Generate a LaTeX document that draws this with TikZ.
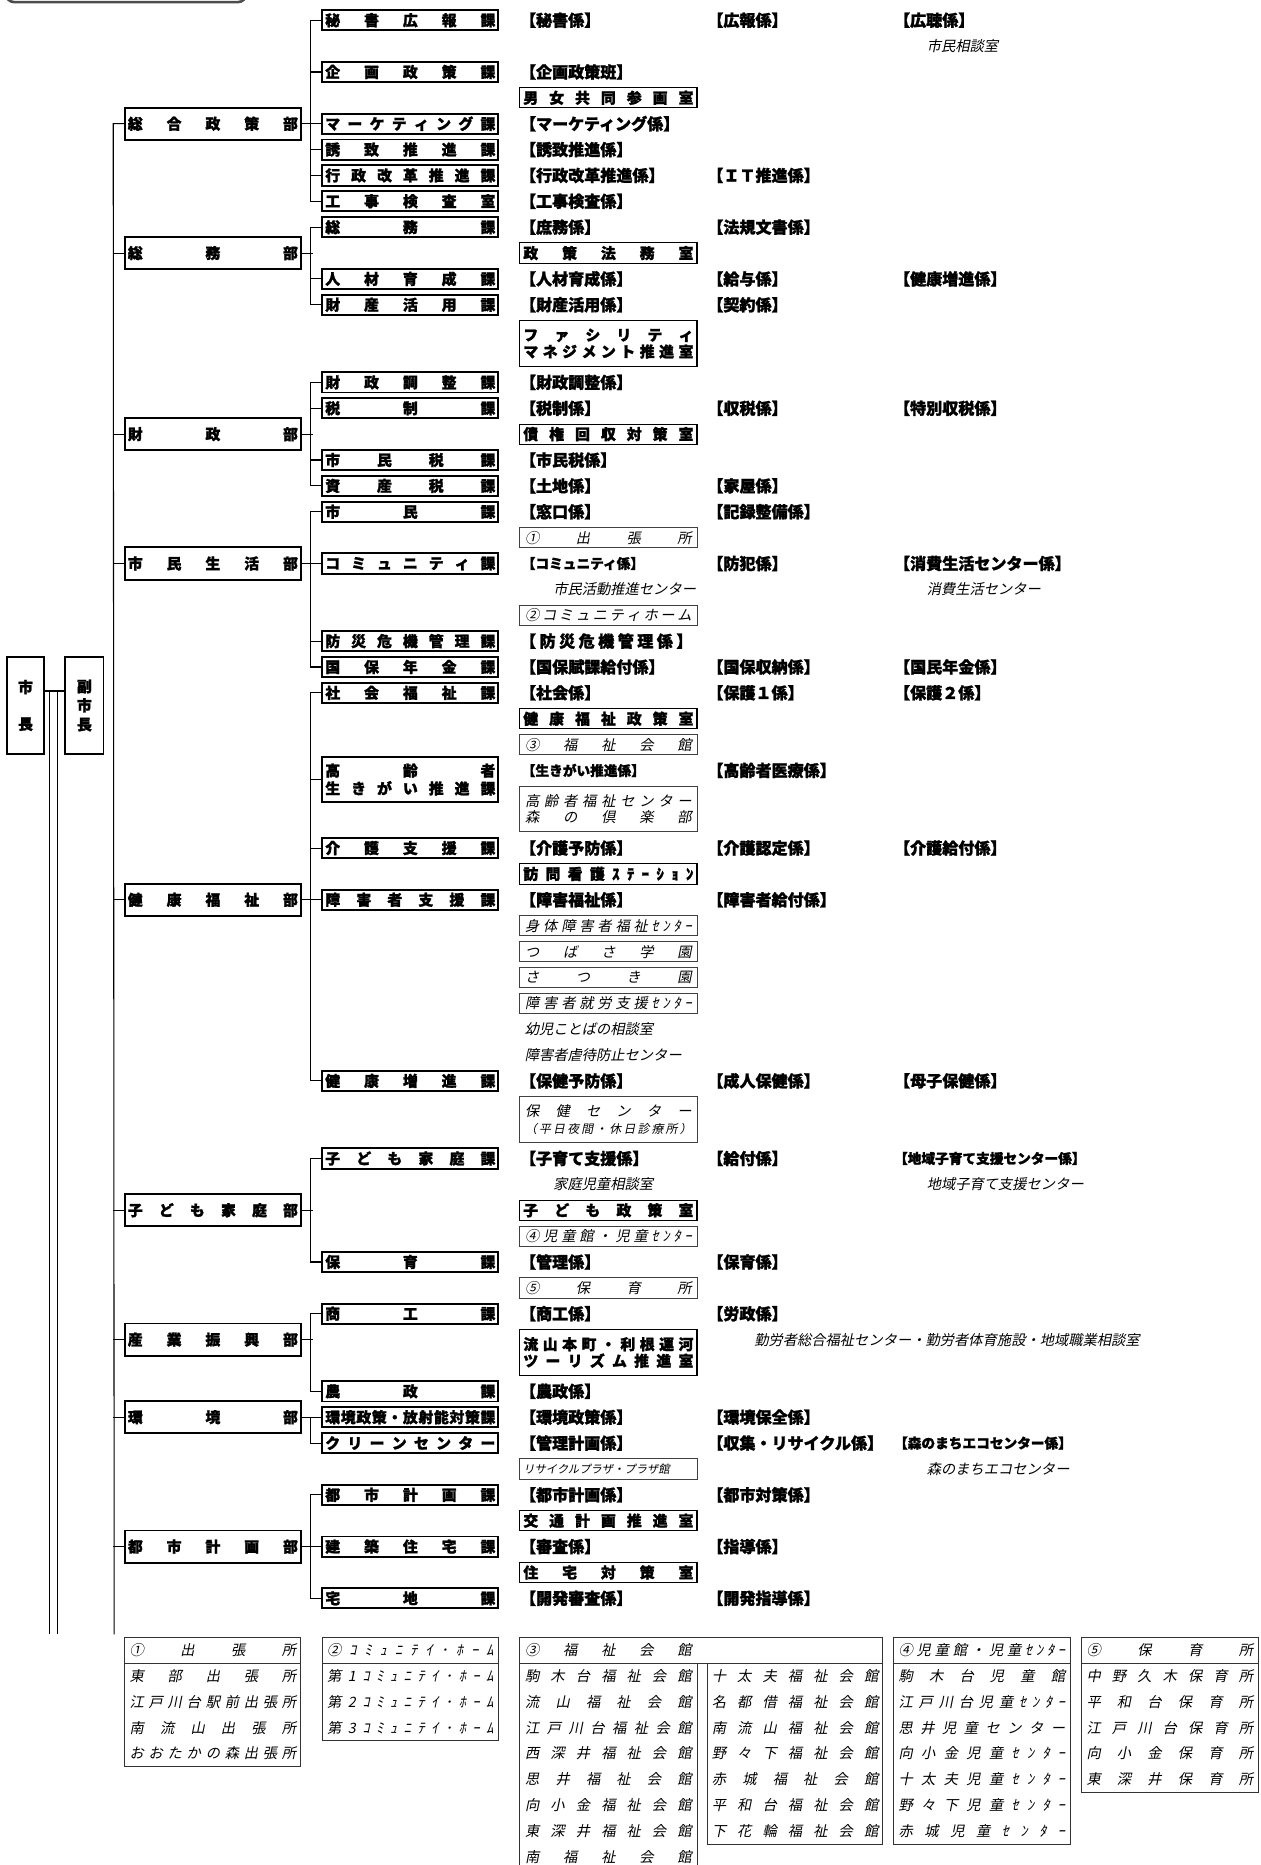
\documentclass[tikz,border=0pt]{standalone}
\usepackage{fontspec}
\setmainfont{Noto Sans CJK JP}[BoldFeatures={FakeBold=1.6}]
\newfontfamily\jpit{Noto Sans CJK JP}[FakeSlant=0.2]

\makeatletter
% spread the characters evenly over a given width
\def\dst@#1#2\@nil{#1\ifx\relax#2\relax\else\hfill\dst@#2\@nil\fi}
\newcommand\dist[2]{\makebox[#1][s]{\expandafter\dst@#2\@nil}}
\makeatother
\newcommand\wide[1]{\dist{143pt}{#1}}
\newcommand\iwide[1]{\dist{140pt}{#1}}

\tikzset{
  bu/.style={draw, line width=1.6pt, minimum width=148pt, minimum height=27pt, inner sep=0pt, align=center, font=\bfseries\fontsize{12.5}{15}\selectfont},
  ka/.style={draw, line width=1.6pt, minimum width=148pt, minimum height=17pt, inner sep=0pt, align=center, font=\bfseries\fontsize{12.5}{15}\selectfont},
  shitsu/.style={draw, line width=0.9pt, minimum width=149pt, minimum height=17pt, inner sep=0pt, align=center, font=\bfseries\fontsize{12.5}{14}\selectfont},
  shisetsu/.style={draw=black!75, line width=0.7pt, minimum width=149pt, minimum height=17pt, inner sep=0pt, align=center, font=\jpit\fontsize{12}{14}\selectfont},
  kakari/.style={anchor=west, inner sep=0pt, font=\bfseries\fontsize{13.5}{15}\selectfont},
  kakari small/.style={anchor=west, inner sep=0pt, font=\bfseries\fontsize{11.5}{13}\selectfont},
  memo/.style={anchor=west, inner sep=0pt, font=\jpit\fontsize{12}{14}\selectfont},
  hyo/.style={inner sep=0pt, font=\jpit\fontsize{12}{14}\selectfont},
  link/.style={line width=0.9pt},
  waku/.style={draw=black!80, line width=0.8pt},
}

\begin{document}
\begin{tikzpicture}[x=1pt, y=-21.75pt]
  % x in points, y in rows of the chart (row 0 = first line)
  \useasboundingbox (0,-0.782) rectangle (1060,71.31);
  \draw[gray!60!black, line width=2.2pt, rounded corners=7pt] (5,-3) rectangle (207,-0.70);

  % mayor and vice mayor
  \node[draw, line width=1.6pt, minimum width=31pt, minimum height=82pt, inner sep=0pt, align=center, font=\bfseries\fontsize{12.5}{31}\selectfont] (Shicho) at (21.5,26.49) {市\\長};
  \node[draw, line width=1.6pt, minimum width=32pt, minimum height=82pt, inner sep=0pt, align=center, font=\bfseries\fontsize{12.5}{16}\selectfont] (Fuku) at (71,26.49) {副\\市\\長};

  % departments
  \node[bu] (Sogo) at (179,4) {\wide{総合政策部}};
  \node[bu] (Somu) at (179,9) {\wide{総務部}};
  \node[bu] (Zaisei) at (179,16) {\wide{財政部}};
  \node[bu] (Shimin) at (179,21) {\wide{市民生活部}};
  \node[bu] (Kenko) at (179,34) {\wide{健康福祉部}};
  \node[bu] (Kodomo) at (179,46) {\wide{子ども家庭部}};
  \node[bu] (Sangyo) at (179,51) {\wide{産業振興部}};
  \node[bu] (Kankyo) at (179,54) {\wide{環境部}};
  \node[bu] (Toshi) at (179,59) {\wide{都市計画部}};

  % sections
  \node[ka] (Hisho) at (345,0) {\wide{秘書広報課}};
  \node[ka] (Kikaku) at (345,2) {\wide{企画政策課}};
  \node[ka] (Market) at (345,4) {\wide{マーケティング課}};
  \node[ka] (Yuchi) at (345,5) {\wide{誘致推進課}};
  \node[ka] (Gyokaku) at (345,6) {\wide{行政改革推進課}};
  \node[ka] (Koji) at (345,7) {\wide{工事検査室}};
  \node[ka] (Somuka) at (345,8) {\wide{総務課}};
  \node[ka] (Jinzai) at (345,10) {\wide{人材育成課}};
  \node[ka] (Zaisan) at (345,11) {\wide{財産活用課}};
  \node[ka] (Chosei) at (345,14) {\wide{財政調整課}};
  \node[ka] (Zeisei) at (345,15) {\wide{税制課}};
  \node[ka] (Shiminzei) at (345,17) {\wide{市民税課}};
  \node[ka] (Shisanzei) at (345,18) {\wide{資産税課}};
  \node[ka] (Shiminka) at (345,19) {\wide{市民課}};
  \node[ka] (Commu) at (345,21) {\wide{コミュニティ課}};
  \node[ka] (Bosai) at (345,24) {\wide{防災危機管理課}};
  \node[ka] (Kokuho) at (345,25) {\wide{国保年金課}};
  \node[ka] (Shakai) at (345,26) {\wide{社会福祉課}};
  \node[ka, minimum height=38pt] (Korei) at (345,29.35) {\wide{高齢者}\\\wide{生きがい推進課}};
  \node[ka] (Kaigo) at (345,32) {\wide{介護支援課}};
  \node[ka] (Shogai) at (345,34) {\wide{障害者支援課}};
  \node[ka] (Zoshin) at (345,41) {\wide{健康増進課}};
  \node[ka] (Katei) at (345,44) {\wide{子ども家庭課}};
  \node[ka] (Hoiku) at (345,48) {\wide{保育課}};
  \node[ka] (Shoko) at (345,50) {\wide{商工課}};
  \node[ka] (Nosei) at (345,53) {\wide{農政課}};
  \node[ka] (Kanseisaku) at (345,54) {\wide{環境政策・放射能対策課}};
  \node[ka] (Clean) at (345,55) {\wide{クリーンセンター}};
  \node[ka] (Keikaku) at (345,57) {\wide{都市計画課}};
  \node[ka] (Kenchiku) at (345,59) {\wide{建築住宅課}};
  \node[ka] (Takuchi) at (345,61) {\wide{宅地課}};

  % offices and facilities
  \node[shitsu] (Danjo) at (511.5,3) {\wide{男女共同参画室}};
  \node[shitsu] (Homu) at (511.5,9) {\wide{政策法務室}};
  \node[shitsu, minimum height=38.5pt] (Facility) at (511.5,12.5) {\wide{ファシリティ}\\\wide{マネジメント推進室}};
  \node[shitsu] (Saiken) at (511.5,16) {\wide{債権回収対策室}};
  \node[shisetsu] (Shucho) at (511.5,20) {\iwide{①出張所}};
  \node[shisetsu] (Home) at (511.5,23) {\iwide{②コミュニティホーム}};
  \node[shitsu] (Fseisaku) at (511.5,27) {\wide{健康福祉政策室}};
  \node[shisetsu] (Kaikan) at (511.5,28) {\iwide{③福祉会館}};
  \node[shisetsu, minimum height=38pt] (Koreicenter) at (511.5,30.5) {\iwide{高齢者福祉センター}\\\iwide{森の倶楽部}};
  \node[shitsu] (Homon) at (511.5,33) {\wide{訪問看護ｽﾃｰｼｮﾝ}};
  \node[shisetsu] (Shintai) at (511.5,35) {\iwide{身体障害者福祉ｾﾝﾀｰ}};
  \node[shisetsu] (Tsubasa) at (511.5,36) {\iwide{つばさ学園}};
  \node[shisetsu] (Satsuki) at (511.5,37) {\iwide{さつき園}};
  \node[shisetsu] (Shuro) at (511.5,38) {\iwide{障害者就労支援ｾﾝﾀｰ}};
  \node[shisetsu, minimum height=38.5pt] (Hoken) at (511.5,42.5) {\iwide{保健センター}\\{\fontsize{10}{12}\selectfont\iwide{（平日夜間・休日診療所）}}};
  \node[shitsu] (Kseisaku) at (511.5,46) {\wide{子ども政策室}};
  \node[shisetsu] (Jidokan) at (511.5,47) {\iwide{④児童館・児童ｾﾝﾀｰ}};
  \node[shisetsu] (Hoikusho) at (511.5,49) {\iwide{⑤保育所}};
  \node[shitsu, minimum height=38.5pt] (Tourism) at (511.5,51.5) {\wide{流山本町・利根運河}\\\wide{ツーリズム推進室}};
  \node[shisetsu, text width=143pt, align=left, font=\jpit\fontsize{9.5}{11}\selectfont] (Recycle) at (511.5,56) {リサイクルプラザ・プラザ館};
  \node[shitsu] (Kotsu) at (511.5,58) {\wide{交通計画推進室}};
  \node[shitsu] (Jutaku) at (511.5,60) {\wide{住宅対策室}};

  % notes
  \node[memo] (m1) at (779,1) {市民相談室};
  \node[memo] (m2) at (465,22) {市民活動推進センター};
  \node[memo] (m3) at (779,22) {消費生活センター};
  \node[memo] (m4) at (441,39) {幼児ことばの相談室};
  \node[memo] (m5) at (441,40) {障害者虐待防止センター};
  \node[memo] (m6) at (465,45) {家庭児童相談室};
  \node[memo] (m7) at (779,45) {地域子育て支援センター};
  \node[memo] (m8) at (634,51) {勤労者総合福祉センター・勤労者体育施設・地域職業相談室};
  \node[memo] (m9) at (779,56) {森のまちエコセンター};

  % units
  \node[kakari] (k0a) at (437,0) {【秘書係】};
  \node[kakari] (k0b) at (594.5,0) {【広報係】};
  \node[kakari] (k0c) at (751.5,0) {【広聴係】};
  \node[kakari] (k2a) at (437,2) {【企画政策班】};
  \node[kakari] (k4a) at (437,4) {【マーケティング係】};
  \node[kakari] (k5a) at (437,5) {【誘致推進係】};
  \node[kakari] (k6a) at (437,6) {【行政改革推進係】};
  \node[kakari] (k6b) at (594.5,6) {【ＩＴ推進係】};
  \node[kakari] (k7a) at (437,7) {【工事検査係】};
  \node[kakari] (k8a) at (437,8) {【庶務係】};
  \node[kakari] (k8b) at (594.5,8) {【法規文書係】};
  \node[kakari] (k10a) at (437,10) {【人材育成係】};
  \node[kakari] (k10b) at (594.5,10) {【給与係】};
  \node[kakari] (k10c) at (751.5,10) {【健康増進係】};
  \node[kakari] (k11a) at (437,11) {【財産活用係】};
  \node[kakari] (k11b) at (594.5,11) {【契約係】};
  \node[kakari] (k14a) at (437,14) {【財政調整係】};
  \node[kakari] (k15a) at (437,15) {【税制係】};
  \node[kakari] (k15b) at (594.5,15) {【収税係】};
  \node[kakari] (k15c) at (751.5,15) {【特別収税係】};
  \node[kakari] (k17a) at (437,17) {【市民税係】};
  \node[kakari] (k18a) at (437,18) {【土地係】};
  \node[kakari] (k18b) at (594.5,18) {【家屋係】};
  \node[kakari] (k19a) at (437,19) {【窓口係】};
  \node[kakari] (k19b) at (594.5,19) {【記録整備係】};
  \node[kakari small] (k21a) at (438.5,21) {【コミュニティ係】};
  \node[kakari] (k21b) at (594.5,21) {【防犯係】};
  \node[kakari] (k21c) at (751.5,21) {【消費生活センター係】};
  \node[kakari] (k24a) at (437,24) {\dist{145pt}{【防災危機管理係】}};
  \node[kakari] (k25a) at (437,25) {【国保賦課給付係】};
  \node[kakari] (k25b) at (594.5,25) {【国保収納係】};
  \node[kakari] (k25c) at (751.5,25) {【国民年金係】};
  \node[kakari] (k26a) at (437,26) {【社会係】};
  \node[kakari] (k26b) at (594.5,26) {【保護１係】};
  \node[kakari] (k26c) at (751.5,26) {【保護２係】};
  \node[kakari small] (k29a) at (438.5,29) {【生きがい推進係】};
  \node[kakari] (k29b) at (594.5,29) {【高齢者医療係】};
  \node[kakari] (k32a) at (437,32) {【介護予防係】};
  \node[kakari] (k32b) at (594.5,32) {【介護認定係】};
  \node[kakari] (k32c) at (751.5,32) {【介護給付係】};
  \node[kakari] (k34a) at (437,34) {【障害福祉係】};
  \node[kakari] (k34b) at (594.5,34) {【障害者給付係】};
  \node[kakari] (k41a) at (437,41) {【保健予防係】};
  \node[kakari] (k41b) at (594.5,41) {【成人保健係】};
  \node[kakari] (k41c) at (751.5,41) {【母子保健係】};
  \node[kakari] (k44a) at (437,44) {【子育て支援係】};
  \node[kakari] (k44b) at (594.5,44) {【給付係】};
  \node[kakari small] (k44c) at (751.5,44) {【地域子育て支援センター係】};
  \node[kakari] (k48a) at (437,48) {【管理係】};
  \node[kakari] (k48b) at (594.5,48) {【保育係】};
  \node[kakari] (k50a) at (437,50) {【商工係】};
  \node[kakari] (k50b) at (594.5,50) {【労政係】};
  \node[kakari] (k53a) at (437,53) {【農政係】};
  \node[kakari] (k54a) at (437,54) {【環境政策係】};
  \node[kakari] (k54b) at (594.5,54) {【環境保全係】};
  \node[kakari] (k55a) at (437,55) {【管理計画係】};
  \node[kakari] (k55b) at (594.5,55) {【収集・リサイクル係】};
  \node[kakari small] (k55c) at (751.5,55) {【森のまちエコセンター係】};
  \node[kakari] (k57a) at (437,57) {【都市計画係】};
  \node[kakari] (k57b) at (594.5,57) {【都市対策係】};
  \node[kakari] (k59a) at (437,59) {【審査係】};
  \node[kakari] (k59b) at (594.5,59) {【指導係】};
  \node[kakari] (k61a) at (437,61) {【開発審査係】};
  \node[kakari] (k61b) at (594.5,61) {【開発指導係】};

  % lines
  \coordinate (TrunkEnd) at (96,62.39);
  \coordinate (DblA) at (41.5,25.93);
  \coordinate (DblAEnd) at (41.5,62.39);
  \coordinate (DblB) at (48,25.93);
  \coordinate (DblBEnd) at (48,62.39);
  \draw[link] ([yshift=12.2pt]Shicho.east) -- ([yshift=12.2pt]Fuku.west);
  \draw[link] (DblA) -- (DblAEnd);
  \draw[link] (DblB) -- (DblBEnd);
  \draw[link] (Sogo.west) -- ++(-9,0) -- (TrunkEnd);
  \foreach \b in {Somu,Zaisei,Shimin,Kenko,Kodomo,Sangyo,Kankyo,Toshi}
    \draw[link] (\b.west) -- ++(-9,0);
  \foreach \b in {Sogo,Somu,Zaisei,Shimin,Kenko,Kodomo,Sangyo,Kankyo,Toshi}
    \draw[link] (\b.east) -- ++(9,0);

  \draw[link] (Hisho.west) -- ++(-9,0) |- (Koji.west);
  \draw[link] (Somuka.west) -- ++(-9,0) |- (Zaisan.west);
  \draw[link] (Chosei.west) -- ++(-9,0) |- (Shisanzei.west);
  \draw[link] (Shiminka.west) -- ++(-9,0) |- (Kokuho.west);
  \draw[link] (Shakai.west) -- ++(-9,0) |- (Zoshin.west);
  \draw[link] (Katei.west) -- ++(-9,0) |- (Hoiku.west);
  \draw[link] (Shoko.west) -- ++(-9,0) |- (Nosei.west);
  \draw[link] (Kanseisaku.west) -- ++(-9,0) |- (Clean.west);
  \draw[link] (Keikaku.west) -- ++(-9,0) |- (Takuchi.west);
  \foreach \k in {Kikaku,Market,Yuchi,Gyokaku,Jinzai,Zeisei,Shiminzei,Commu,Bosai,Korei,Kaigo,Shogai,Kenchiku}
    \draw[link] (\k.west) -- ++(-9,0);

  % facility tables
  \draw[waku] (105,62.5) rectangle (253,67.5);
  \draw[waku] (105,63.5) -- (253,63.5);
  \node[hyo] (T1h) at (179,63) {\iwide{①出張所}};
  \foreach \t [count=\i] in {東部出張所,江戸川台駅前出張所,南流山出張所,おおたかの森出張所}
    \node[hyo] (T1-\i) at (179,63+\i) {\iwide{\t}};

  \draw[waku] (271,62.5) rectangle (419,66.5);
  \draw[waku] (271,63.5) -- (419,63.5);
  \node[hyo] (T2h) at (345,63) {\iwide{②ｺﾐｭﾆﾃｲ･ﾎｰﾑ}};
  \foreach \t [count=\i] in {第1ｺﾐｭﾆﾃｲ･ﾎｰﾑ,第2ｺﾐｭﾆﾃｲ･ﾎｰﾑ,第3ｺﾐｭﾆﾃｲ･ﾎｰﾑ}
    \node[hyo] (T2-\i) at (345,63+\i) {\iwide{\t}};

  \draw[waku] (437,71.5) -- (437,62.5) -- (742,62.5) -- (742,70.5) -- (595,70.5) -- (595,63.5);
  \draw[waku] (437,63.5) -- (742,63.5);
  \draw[waku] (586,63.5) -- (586,71.5);
  \node[hyo] (T3h) at (511.5,63) {\iwide{③福祉会館}};
  \foreach \t [count=\i] in {駒木台福祉会館,流山福祉会館,江戸川台福祉会館,西深井福祉会館,思井福祉会館,向小金福祉会館,東深井福祉会館,南福祉会館}
    \node[hyo] (T3a-\i) at (511.5,63+\i) {\iwide{\t}};
  \foreach \t [count=\i] in {十太夫福祉会館,名都借福祉会館,南流山福祉会館,野々下福祉会館,赤城福祉会館,平和台福祉会館,下花輪福祉会館}
    \node[hyo] (T3b-\i) at (668.5,63+\i) {\iwide{\t}};

  \draw[waku] (751,62.5) rectangle (900,70.5);
  \draw[waku] (751,63.5) -- (900,63.5);
  \node[hyo] (T4h) at (825.5,63) {\iwide{④児童館・児童ｾﾝﾀｰ}};
  \foreach \t [count=\i] in {駒木台児童館,江戸川台児童ｾﾝﾀｰ,思井児童センター,向小金児童ｾﾝﾀｰ,十太夫児童ｾﾝﾀｰ,野々下児童ｾﾝﾀｰ,赤城児童ｾﾝﾀｰ}
    \node[hyo] (T4-\i) at (825.5,63+\i) {\iwide{\t}};

  \draw[waku] (909,62.5) rectangle (1058,68.5);
  \draw[waku] (909,63.5) -- (1058,63.5);
  \node[hyo] (T5h) at (983.5,63) {\iwide{⑤保育所}};
  \foreach \t [count=\i] in {中野久木保育所,平和台保育所,江戸川台保育所,向小金保育所,東深井保育所}
    \node[hyo] (T5-\i) at (983.5,63+\i) {\iwide{\t}};
\end{tikzpicture}
\end{document}
